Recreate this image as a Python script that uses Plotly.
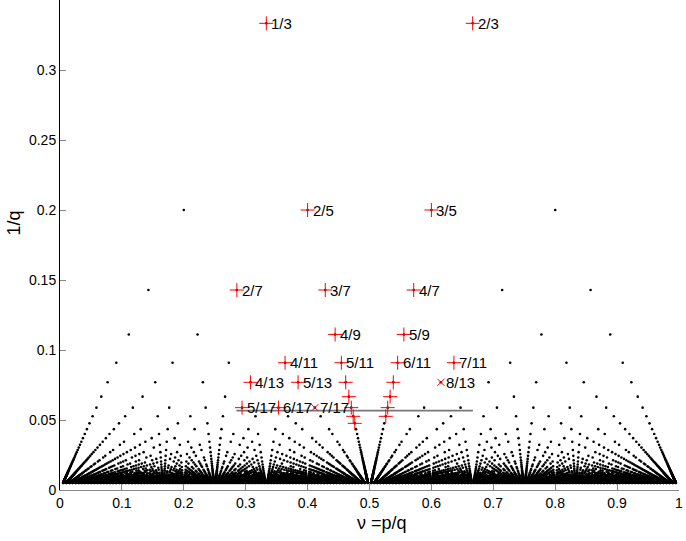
from math import gcd
import plotly.graph_objects as go

# odd denominators shown as black dots (reduced fractions p/q, 0<p<q)
denominators = list(range(3, 200, 2))

# highlighted fractions: red "+" markers
plus_fracs = [(1, 3), (2, 3), (2, 5), (3, 5), (2, 7), (3, 7), (4, 7), (4, 9), (5, 9),
              (4, 11), (5, 11), (6, 11), (7, 11), (4, 13), (5, 13), (6, 13), (7, 13),
              (5, 17), (6, 17), (7, 15), (8, 15), (8, 17), (9, 17), (9, 19), (10, 19),
              (10, 21)]
# highlighted fractions: red "x" markers
cross_fracs = [(7, 17), (8, 13)]
# fractions with a text label next to them
label_fracs = [(1, 3), (2, 3), (2, 5), (3, 5), (2, 7), (3, 7), (4, 7), (4, 9), (5, 9),
               (4, 11), (5, 11), (6, 11), (7, 11), (4, 13), (5, 13), (8, 13),
               (5, 17), (6, 17), (7, 17)]

# gray horizontal segment
seg_x = [0.285, 0.667]
seg_y = [0.0567, 0.0567]

xticks = [0, 0.1, 0.2, 0.3, 0.4, 0.5, 0.6, 0.7, 0.8, 0.9, 1]
xtick_text = ['0', '0.1', '0.2', '0.3', '0.4', '0.5', '0.6', '0.7', '0.8', '0.9', '1']
yticks = [0, 0.05, 0.1, 0.15, 0.2, 0.25, 0.3]
ytick_text = ['0', '0.05', '0.1', '0.15', '0.2', '0.25', '0.3']

FONT = 'Liberation Sans, Arial, Helvetica, sans-serif'

dot_x, dot_y = [], []
for q in denominators:
    for p in range(1, q):
        if gcd(p, q) == 1:
            dot_x.append(p / q)
            dot_y.append(1 / q)

fig = go.Figure()
fig.add_trace(go.Scatter(x=dot_x, y=dot_y, mode='markers',
                         marker=dict(size=2.6, color='black', line=dict(width=0)),
                         hoverinfo='skip'))
fig.add_trace(go.Scatter(x=seg_x, y=seg_y, mode='lines',
                         line=dict(color='#777777', width=1.6)))
fig.add_trace(go.Scatter(x=[p / q for p, q in plus_fracs], y=[1 / q for p, q in plus_fracs],
                         mode='markers',
                         marker=dict(symbol='cross-thin', size=10, color='red',
                                     line=dict(color='red', width=1))))
fig.add_trace(go.Scatter(x=[p / q for p, q in cross_fracs], y=[1 / q for p, q in cross_fracs],
                         mode='markers',
                         marker=dict(symbol='x-thin', size=7, color='red',
                                     line=dict(color='red', width=1))))

for p, q in label_fracs:
    fig.add_annotation(x=p / q, y=1 / q, text=f'{p}/{q}', showarrow=False,
                       xanchor='left', yanchor='middle', xshift=3,
                       font=dict(family=FONT, size=15, color='black'))

# axis titles placed in paper coordinates
fig.add_annotation(x=0.52, y=-0.068, xref='paper', yref='paper', text='ν =p/q',
                   showarrow=False, xanchor='center', yanchor='middle',
                   font=dict(family=FONT, size=18, color='black'))
fig.add_annotation(x=-0.075, y=0.545, xref='paper', yref='paper', text='1/q',
                   showarrow=False, textangle=-90, xanchor='center', yanchor='middle',
                   font=dict(family=FONT, size=18, color='black'))

fig.update_layout(
    width=686, height=541,
    margin=dict(l=60, r=7, t=0, b=51),
    paper_bgcolor='white', plot_bgcolor='white',
    showlegend=False,
    font=dict(family=FONT, size=14, color='black'),
)
fig.update_xaxes(range=[0, 1], tickvals=xticks, ticktext=xtick_text,
                 showgrid=False, zeroline=False, showline=True, linecolor='#888888',
                 linewidth=1, ticks='inside', ticklen=6, tickcolor='#888888',
                 tickfont=dict(size=14))
fig.update_yaxes(range=[0, 0.35], tickvals=yticks, ticktext=ytick_text,
                 showgrid=False, zeroline=False, showline=True, linecolor='black',
                 linewidth=1, ticks='inside', ticklen=6, tickcolor='#888888',
                 tickfont=dict(size=14))

fig.write_html('out.html', config={'displayModeBar': False},
               post_script="document.body.style.margin='0';")
